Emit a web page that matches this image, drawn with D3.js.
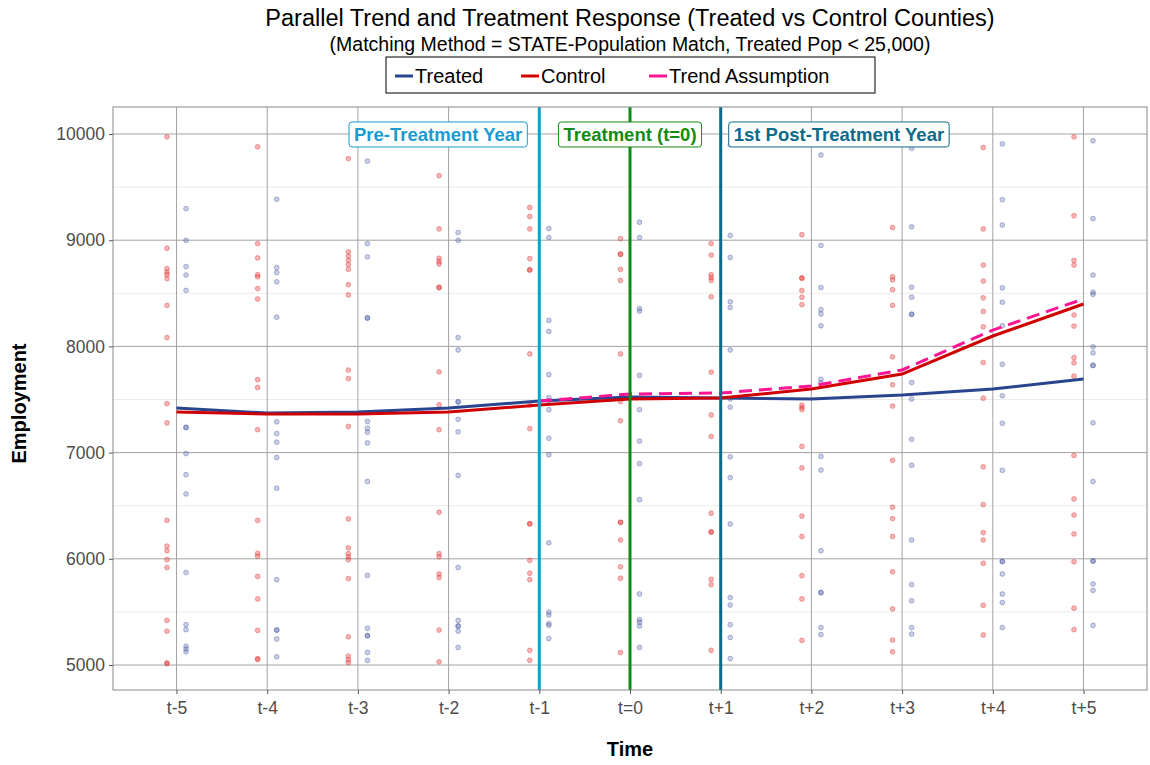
<!DOCTYPE html>
<html>
<head>
<meta charset="utf-8">
<script src="https://cdn.jsdelivr.net/npm/d3@7"></script>
<style>
  html, body { margin: 0; padding: 0; background: #fff; }
  svg { display: block; font-family: "Liberation Sans", Arial, sans-serif; }
</style>
</head>
<body>
<svg id="chart" width="1150" height="765"></svg>
<script>
// ---- data -------------------------------------------------------------
const periods = ["t-5", "t-4", "t-3", "t-2", "t-1", "t=0", "t+1", "t+2", "t+3", "t+4", "t+5"];
const periodIndex = [-5, -4, -3, -2, -1, 0, 1, 2, 3, 4, 5];

// mean employment by group
const treatedMean = [7420, 7373, 7382, 7420, 7486, 7524, 7514, 7505, 7542, 7599, 7693];
const controlMean = [7382, 7363, 7363, 7382, 7448, 7505, 7514, 7599, 7740, 8098, 8399];
// counterfactual path for treated, starting at t-1
const trendPeriods = [-1, 0, 1, 2, 3, 4, 5];
const trendValues = [7486, 7552, 7561, 7627, 7778, 8154, 8446];

// county-level observations per period
const controlPoints = [
  [9973, 8924, 8732, 8699, 8675, 8638, 8386, 8083, 7461, 7280, 6362, 6120, 6076, 5992, 5918, 5420, 5319, 5020, 5012],
  [9879, 8968, 8833, 8675, 8655, 8544, 8446, 7687, 7613, 7216, 6362, 6052, 6025, 5834, 5622, 5326, 5060, 5052],
  [9768, 8890, 8850, 8810, 8770, 8726, 8581, 8484, 7777, 7697, 7246, 6375, 6103, 6049, 6019, 5992, 5814, 5266, 5084, 5050, 5023],
  [9607, 9106, 8830, 8800, 8776, 8557, 8552, 7760, 7451, 7216, 6439, 6049, 6019, 5857, 5824, 5329, 5030],
  [9308, 9223, 9106, 8826, 8722, 8718, 7929, 7448, 7226, 6332, 6328, 5985, 5864, 5804, 5138, 5044],
  [9015, 8870, 8866, 8726, 8621, 7929, 7481, 7300, 6345, 6341, 6177, 5925, 5817, 5118],
  [8968, 8860, 8675, 8648, 8621, 8467, 7757, 7354, 7152, 6429, 6254, 6250, 5807, 5757, 5138],
  [9052, 8645, 8641, 8527, 8463, 8393, 7448, 7424, 7404, 7058, 6856, 6402, 6210, 5841, 5622, 5232],
  [9119, 8655, 8625, 8534, 8386, 7902, 7639, 7438, 6927, 6486, 6379, 6210, 5878, 5528, 5235, 5124],
  [9872, 9106, 8766, 8615, 8457, 8329, 8184, 7848, 7512, 6866, 6510, 6247, 6177, 5958, 5562, 5283],
  [9973, 9230, 8810, 8766, 8295, 8191, 7895, 7845, 7720, 6974, 6564, 6412, 6234, 5972, 5535, 5333]
];
const treatedPoints = [
  [9297, 8998, 8752, 8672, 8527, 7239, 7235, 6991, 6792, 6611, 5871, 5380, 5333, 5178, 5151, 5124],
  [9385, 8742, 8695, 8608, 8275, 7290, 7179, 7098, 6954, 6664, 5804, 5331, 5327, 5245, 5077],
  [9744, 8968, 8843, 8270, 8265, 7293, 7229, 7192, 7091, 6728, 5844, 5346, 5278, 5274, 5118, 5044],
  [9072, 8998, 8083, 7966, 7480, 7476, 7313, 7196, 6785, 5918, 5420, 5369, 5365, 5319, 5165],
  [9109, 9025, 8245, 8141, 7734, 7518, 7488, 7404, 7135, 6980, 6150, 5498, 5471, 5390, 5373, 5249],
  [9169, 9025, 8356, 8332, 7727, 7404, 7108, 6896, 6557, 5669, 5427, 5403, 5367, 5165],
  [9899, 9045, 8837, 8420, 8366, 7966, 7505, 7428, 6960, 6765, 6328, 5635, 5565, 5380, 5259, 5061],
  [9802, 8951, 8554, 8346, 8305, 8194, 7690, 7656, 6964, 6836, 6076, 5684, 5680, 5353, 5286],
  [9865, 9126, 8557, 8463, 8304, 8300, 7660, 7505, 7125, 6880, 6177, 5757, 5605, 5353, 5292],
  [9906, 9381, 9143, 8551, 8416, 8194, 7831, 7535, 7276, 6833, 5977, 5973, 5857, 5669, 5588, 5353],
  [9936, 9203, 8672, 8510, 8490, 7996, 7939, 7823, 7819, 7280, 6728, 5981, 5977, 5763, 5703, 5373]
];

const yTicks = [5000, 6000, 7000, 8000, 9000, 10000];
const yMinor = [5500, 6500, 7500, 8500, 9500];

const markers = [
  { t: -1, label: "Pre-Treatment Year", color: "#1A9BCF", anchor: "end" },
  { t: 0, label: "Treatment (t=0)", color: "#138A13", anchor: "middle" },
  { t: 1, label: "1st Post-Treatment Year", color: "#0D6B8A", anchor: "start" }
];

const legendItems = [
  { label: "Treated", color: "#2A4590" },
  { label: "Control", color: "#D00000" },
  { label: "Trend Assumption", color: "#FF1493" }
];

// ---- layout -----------------------------------------------------------
const svg = d3.select("#chart");
const panel = { left: 113, right: 1147, top: 107, bottom: 690 };

const x = d3.scaleLinear().domain([-5.7, 5.7]).range([panel.left, panel.right]);
const y = d3.scaleLinear().domain([4765, 10254]).range([panel.bottom, panel.top]);

const treatedColor = "#2A4590";
const controlColor = "#D00000";
const trendColor = "#FF1493";
const dodge = 0.105;

// gridlines
const grid = svg.append("g");
grid.selectAll("line.minor").data(yMinor).join("line")
  .attr("x1", panel.left).attr("x2", panel.right)
  .attr("y1", d => y(d)).attr("y2", d => y(d))
  .attr("stroke", "#EBEBEB").attr("stroke-width", 1);
grid.selectAll("line.majory").data(yTicks).join("line")
  .attr("x1", panel.left).attr("x2", panel.right)
  .attr("y1", d => y(d)).attr("y2", d => y(d))
  .attr("stroke", "#A3A3A3").attr("stroke-width", 1);
grid.selectAll("line.majorx").data(periodIndex).join("line")
  .attr("x1", d => x(d)).attr("x2", d => x(d))
  .attr("y1", panel.top).attr("y2", panel.bottom)
  .attr("stroke", "#A3A3A3").attr("stroke-width", 1);

// points
const ptsLayer = svg.append("g");
periodIndex.forEach((t, i) => {
  ptsLayer.selectAll(null).data(controlPoints[i]).join("circle")
    .attr("cx", x(t - dodge)).attr("cy", d => y(d)).attr("r", 2.4)
    .attr("fill", "#E84040").attr("fill-opacity", 0.38)
    .attr("stroke", "#D82020").attr("stroke-opacity", 0.45).attr("stroke-width", 0.8);
  ptsLayer.selectAll(null).data(treatedPoints[i]).join("circle")
    .attr("cx", x(t + dodge)).attr("cy", d => y(d)).attr("r", 2.4)
    .attr("fill", "#5060A8").attr("fill-opacity", 0.3)
    .attr("stroke", "#3A4A98").attr("stroke-opacity", 0.45).attr("stroke-width", 0.8);
});

// mean lines
const line = d3.line().x(d => x(d[0])).y(d => y(d[1]));
svg.append("path")
  .datum(periodIndex.map((t, i) => [t, treatedMean[i]]))
  .attr("d", line).attr("fill", "none")
  .attr("stroke", treatedColor).attr("stroke-width", 3);
svg.append("path")
  .datum(periodIndex.map((t, i) => [t, controlMean[i]]))
  .attr("d", line).attr("fill", "none")
  .attr("stroke", controlColor).attr("stroke-width", 3);
svg.append("path")
  .datum(trendPeriods.map((t, i) => [t, trendValues[i]]))
  .attr("d", line).attr("fill", "none")
  .attr("stroke", trendColor).attr("stroke-width", 3)
  .attr("stroke-dasharray", "13,7");

// event markers
svg.selectAll("line.marker").data(markers).join("line")
  .attr("x1", d => x(d.t)).attr("x2", d => x(d.t))
  .attr("y1", panel.top).attr("y2", panel.bottom)
  .attr("stroke", d => d.color).attr("stroke-width", 3);

const labelY = y(10000);
markers.forEach(m => {
  const g = svg.append("g");
  let ax = x(m.t);
  if (m.anchor === "end") ax -= 17;
  if (m.anchor === "start") ax += 13;
  const txt = g.append("text")
    .attr("x", ax).attr("y", labelY + 1)
    .attr("text-anchor", m.anchor).attr("dominant-baseline", "central")
    .attr("font-size", 18.5).attr("font-weight", "bold")
    .attr("fill", m.color).text(m.label);
  const bb = txt.node().getBBox();
  g.insert("rect", "text")
    .attr("x", bb.x - 5).attr("y", labelY - 12)
    .attr("width", bb.width + 10).attr("height", 25)
    .attr("rx", 3).attr("ry", 3)
    .attr("fill", "#fff").attr("stroke", m.color).attr("stroke-width", 1);
});

// panel border
svg.append("rect")
  .attr("x", panel.left).attr("y", panel.top)
  .attr("width", panel.right - panel.left).attr("height", panel.bottom - panel.top)
  .attr("fill", "none").attr("stroke", "#8A8A8A").attr("stroke-width", 1);

// axes
const xAxis = d3.axisBottom(x).tickValues(periodIndex)
  .tickFormat((d, i) => periods[i]).tickSize(4).tickPadding(8);
const gx = svg.append("g").attr("transform", `translate(0,${panel.bottom})`).call(xAxis);
gx.select(".domain").remove();
gx.selectAll("line").attr("stroke", "#555");
gx.selectAll("text").attr("font-size", 17.5).attr("fill", "#4D4D4D")
  .attr("font-family", "Liberation Sans, Arial, sans-serif");

const yAxis = d3.axisLeft(y).tickValues(yTicks).tickFormat(d3.format("d"))
  .tickSize(4).tickPadding(4);
const gy = svg.append("g").attr("transform", `translate(${panel.left},0)`).call(yAxis);
gy.select(".domain").remove();
gy.selectAll("line").attr("stroke", "#555");
gy.selectAll("text").attr("font-size", 17.5).attr("fill", "#4D4D4D")
  .attr("font-family", "Liberation Sans, Arial, sans-serif");

// axis titles
svg.append("text").attr("x", 630).attr("y", 756)
  .attr("text-anchor", "middle").attr("font-size", 20).attr("font-weight", "bold")
  .text("Time");
svg.append("text")
  .attr("transform", `translate(26,${(panel.top + panel.bottom) / 2 + 5}) rotate(-90)`)
  .attr("text-anchor", "middle").attr("font-size", 20).attr("font-weight", "bold")
  .text("Employment");

// titles
const cx = (panel.left + panel.right) / 2;
svg.append("text").attr("x", cx).attr("y", 26)
  .attr("text-anchor", "middle").attr("font-size", 23.5)
  .text("Parallel Trend and Treatment Response (Treated vs Control Counties)");
svg.append("text").attr("x", cx).attr("y", 51)
  .attr("text-anchor", "middle").attr("font-size", 19.5)
  .text("(Matching Method = STATE-Population Match, Treated Pop < 25,000)");

// legend
const legend = svg.append("g");
legend.append("rect").attr("x", 386).attr("y", 57).attr("width", 489).attr("height", 36)
  .attr("fill", "#fff").attr("stroke", "#000").attr("stroke-width", 1);
const legendX = [395, 521, 649];
legendItems.forEach((it, i) => {
  legend.append("line")
    .attr("x1", legendX[i]).attr("x2", legendX[i] + 18)
    .attr("y1", 76).attr("y2", 76)
    .attr("stroke", it.color).attr("stroke-width", 3);
  legend.append("text").attr("x", legendX[i] + 20).attr("y", 83)
    .attr("font-size", 20).text(it.label);
});
</script>
</body>
</html>
